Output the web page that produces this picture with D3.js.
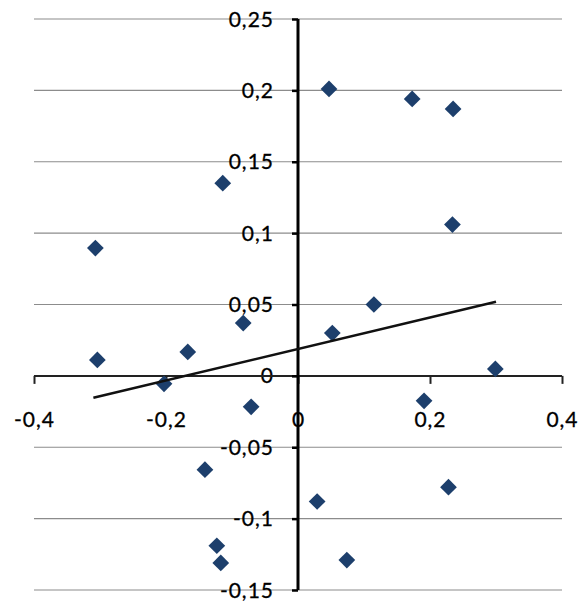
<!DOCTYPE html>
<html>
<head>
<meta charset="utf-8">
<script src="https://cdn.jsdelivr.net/npm/d3@7"></script>
<style>
 body { margin: 0; background: #fff; }
 text { font-family: Lato, "Open Sans", sans-serif; fill: #000; stroke: #000; stroke-width: 0.3px; }
</style>
</head>
<body>
<script>
 /* data */
 var xValues = [-0.307, -0.304, -0.203, -0.167, -0.141, -0.114, -0.123, -0.117, -0.083, -0.071,
                0.029, 0.047, 0.052, 0.074, 0.115, 0.173, 0.191, 0.228, 0.234, 0.235, 0.299];
 var yValues = [0.0895, 0.0112, -0.0056, 0.0168, -0.0657, 0.135, -0.119, -0.131, 0.037, -0.0217,
                -0.088, 0.201, 0.030, -0.129, 0.050, 0.194, -0.0175, -0.078, 0.106, 0.187, 0.0049];
 // linear trend line ends
 var trendX = [-0.31, 0.30];
 var trendY = [-0.0154, 0.052];
 var xTicks = [-0.4, -0.2, 0, 0.2, 0.4];
 var yTicks = [-0.15, -0.1, -0.05, 0, 0.05, 0.1, 0.15, 0.2, 0.25];

 var width = 581, height = 603;

 var svg = d3.select("body").append("svg")
   .attr("width", width)
   .attr("height", height);

 var x = d3.scaleLinear().domain([-0.4, 0.4]).range([34, 562]);
 var y = d3.scaleLinear().domain([-0.15, 0.25]).range([590, 19]);

 var fmt = function(d){ return String(d).replace(".", ","); };

 // gridlines
 svg.append("g").selectAll("line")
   .data(yTicks.filter(function(d){ return d !== 0; }))
   .enter().append("line")
   .attr("x1", x(-0.4)).attr("x2", x(0.4))
   .attr("y1", function(d){ return y(d); })
   .attr("y2", function(d){ return y(d); })
   .attr("stroke", "#8c8c8c")
   .attr("stroke-width", 1.2);

 // y labels
 svg.append("g").selectAll("text")
   .data(yTicks)
   .enter().append("text")
   .attr("x", x(0) - 24)
   .attr("y", function(d){ return y(d); })
   .attr("dy", "0.36em")
   .attr("text-anchor", "end")
   .style("font-size", "21px")
   .style("letter-spacing", "1px")
   .text(fmt);

 // x labels
 svg.append("g").selectAll("text")
   .data(xTicks)
   .enter().append("text")
   .attr("x", function(d){ return x(d) + 0.5; })
   .attr("y", 427)
   .attr("text-anchor", "middle")
   .style("font-size", "21px")
   .style("letter-spacing", "1px")
   .text(fmt);

 // x axis crossing at y = 0
 var xAxis = d3.axisBottom(x).tickValues(xTicks).tickSize(8).tickFormat("");
 var gx = svg.append("g")
   .attr("transform", "translate(0," + y(0) + ")")
   .call(xAxis);
 gx.select(".domain").attr("stroke", "#222").attr("stroke-width", 2).attr("d", "M" + x(-0.4) + ",0H" + x(0.4));
 gx.selectAll(".tick line").attr("stroke", "#222").attr("stroke-width", 2);

 // y axis crossing at x = 0
 var yAxis = d3.axisLeft(y).tickValues(yTicks).tickSize(6).tickFormat("");
 var gy = svg.append("g")
   .attr("transform", "translate(" + x(0) + ",0)")
   .call(yAxis);
 gy.select(".domain").attr("stroke", "#000").attr("stroke-width", 3).attr("d", "M0," + y(0.25) + "V" + y(-0.15));
 gy.selectAll(".tick line").attr("stroke", "#000").attr("stroke-width", 2.5);

 // points
 var diamond = d3.symbol().type(d3.symbolSquare).size(140);
 svg.append("g").selectAll("path")
   .data(xValues.map(function(d, i){ return [d, yValues[i]]; }))
   .enter().append("path")
   .attr("d", diamond)
   .attr("transform", function(d){ return "translate(" + x(d[0]) + "," + y(d[1]) + ") rotate(45)"; })
   .attr("fill", "#1d3f6c");

 // trend line
 var line = d3.line()
   .x(function(d){ return x(d[0]); })
   .y(function(d){ return y(d[1]); });
 svg.append("path")
   .datum(trendX.map(function(d, i){ return [d, trendY[i]]; }))
   .attr("d", line)
   .attr("fill", "none")
   .attr("stroke", "#111")
   .attr("stroke-width", 2.6);
</script>
</body>
</html>
